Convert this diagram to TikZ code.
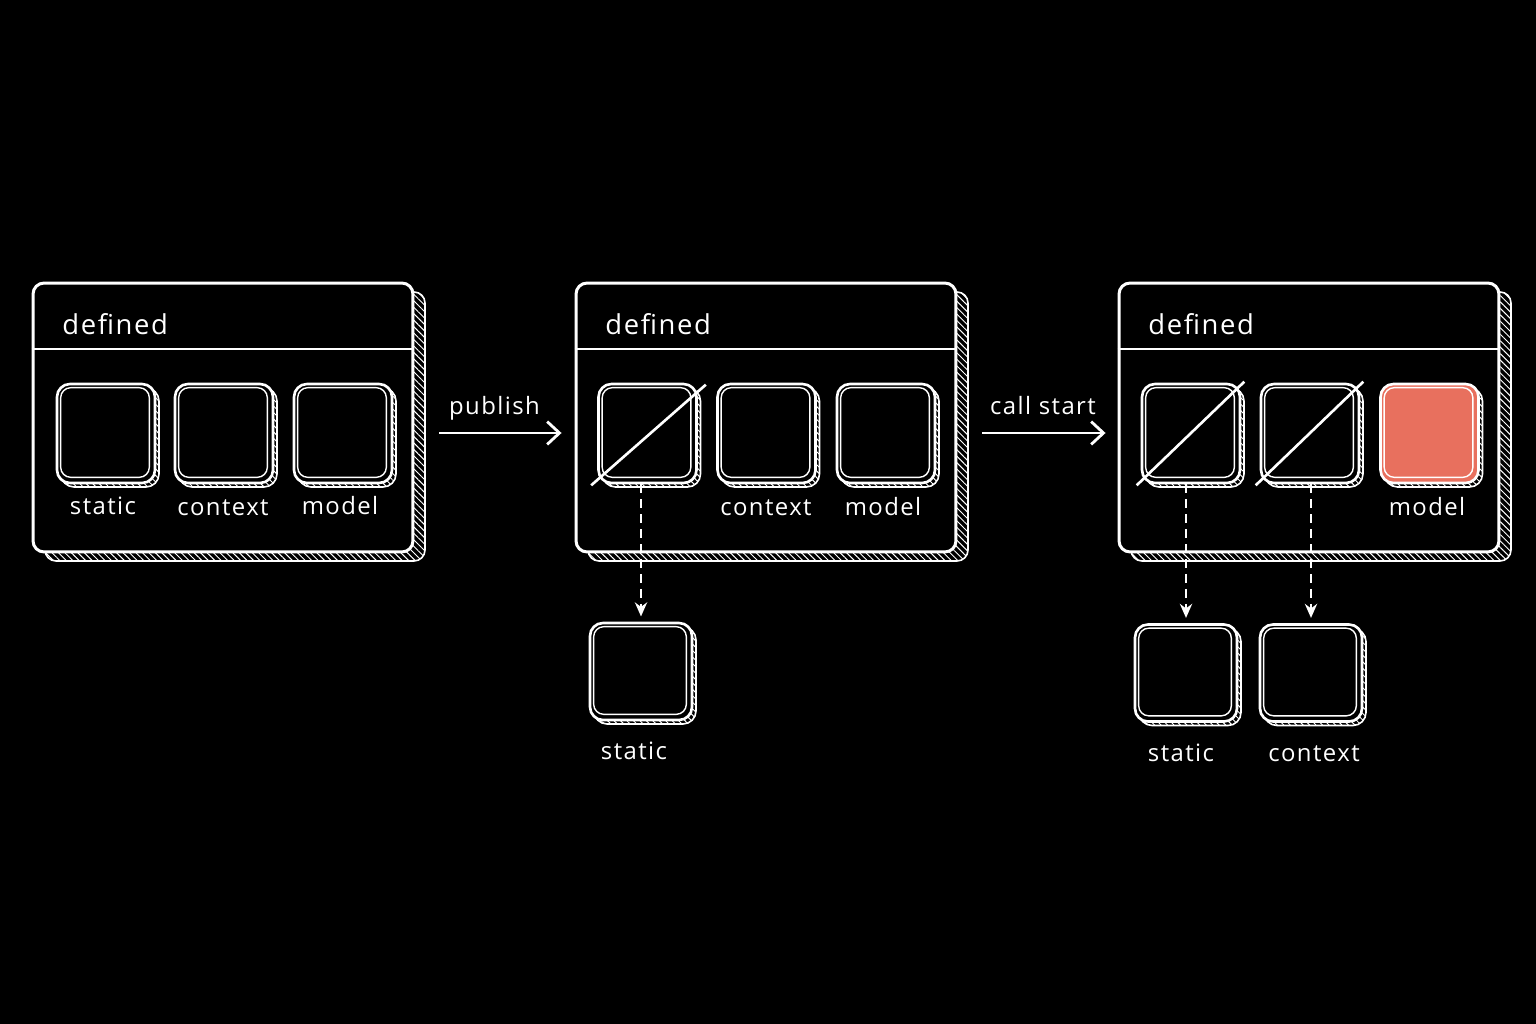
\documentclass[tikz,border=0pt]{standalone}
\usepackage{fontspec}
\setmainfont{Open Sans}[LetterSpace=6]
\usetikzlibrary{arrows.meta,patterns.meta}
\definecolor{coral}{HTML}{E8705E}
\tikzset{
  hatch/.style={draw=white, line width=0.9pt, pattern={Lines[angle=-45,distance=2.6pt,line width=0.55pt]}, pattern color=white},
  panelbox/.style={draw=white, fill=black, line width=1.7pt, rounded corners=0.22cm, minimum width=7.6cm, minimum height=5.38cm, inner sep=0pt},
  slotbox/.style={draw=white, line width=1.5pt, rounded corners=0.26cm, minimum width=1.96cm, minimum height=1.98cm, inner sep=0pt},
  innerline/.style={draw=white, line width=0.8pt, rounded corners=0.2cm},
  slash/.style={draw=white, line width=1.5pt},
  title/.style={text=white, font=\fontsize{15.6}{17}\selectfont, anchor=base west, inner sep=0pt},
  lbl/.style={text=white, font=\fontsize{13.6}{15}\selectfont, anchor=base, inner sep=0pt},
  flow/.style={draw=white, line width=1.6pt, -{Straight Barb[length=7pt,width=13pt,line width=1.6pt]}},
  drop/.style={draw=white, line width=1.1pt, dash pattern=on 5pt off 3.5pt, -{Stealth[length=8pt,width=7pt]}}
}
% panel: name, left x
\newcommand\mkpanel[2]{%
  \draw[hatch, rounded corners=0.22cm] ({#2+12},292) rectangle ({#2+392},561);
  \node[panelbox] (#1) at ({#2+190},417.5) {};
  \draw[white, line width=1.5pt] (#1.west |- 0,349) -- (#1.east |- 0,349);
  \node[title] (#1t) at ({#2+29},334) {defined};
}
% slot: name, cx, cy, fill, width(px), height(px)
\newcommand\mkslot[6]{%
  \draw[hatch, rounded corners=0.26cm] ({#2-#5/2+4},{#3-#6/2+4}) rectangle ({#2+#5/2+4},{#3+#6/2+4});
  \node[slotbox, fill=#4, minimum width=#5*0.02cm, minimum height=#6*0.02cm] (#1) at (#2,#3) {};
  \draw[innerline] ([shift={(5,5)}]#1.north west) rectangle ([shift={(-7,-7)}]#1.south east);
}
\begin{document}
\begin{tikzpicture}[x=0.02cm, y=-0.02cm]
\fill[black] (0,0) rectangle (1536,1024);
\useasboundingbox (0,0) rectangle (1536,1024);

% panels
\mkpanel{P1}{33}
\mkpanel{P2}{576}
\mkpanel{P3}{1119}

% panel 1 slots
\mkslot{a1}{106}{433.5}{black}{98}{99}
\mkslot{a2}{224}{433.5}{black}{98}{99}
\mkslot{a3}{343}{433.5}{black}{98}{99}
\node[lbl] (la1) at (103,514) {static};
\node[lbl] (la2) at (223,515) {context};
\node[lbl] (la3) at (340,514) {model};

% panel 2 slots
\mkslot{b1}{647.5}{433.5}{black}{98}{99}
\mkslot{b2}{766.5}{433.5}{black}{98}{99}
\mkslot{b3}{886}{433.5}{black}{98}{99}
\draw[slash] ([shift={(-6,1)}]b1.south west) -- ([shift={(8,2)}]b1.north east);
\node[lbl] (lb2) at (766,515) {context};
\node[lbl] (lb3) at (883,515) {model};

% panel 3 slots
\mkslot{c1}{1191}{433.5}{black}{98}{99}
\mkslot{c2}{1310}{433.5}{black}{98}{99}
\mkslot{c3}{1429.5}{433.5}{coral}{98}{99}
\draw[slash] ([shift={(-4,1)}]c1.south west) -- ([shift={(3,-1)}]c1.north east);
\draw[slash] ([shift={(-4,1)}]c2.south west) -- ([shift={(3,-1)}]c2.north east);
\node[lbl] (lc3) at (1427,515) {model};

% extracted boxes
\mkslot{d1}{641}{671.5}{black}{102}{97}
\mkslot{e1}{1186}{673}{black}{102}{97}
\mkslot{e2}{1311}{673}{black}{102}{97}
\node[lbl] (ld1) at (634,759) {static};
\node[lbl] (le1) at (1181,761) {static};
\node[lbl] (le2) at (1314,761) {context};

% dashed drops
\draw[drop, shorten >=3pt] (b1.south -| d1.north) -- (d1.north);
\draw[drop, shorten >=3pt] (c1.south -| e1.north) -- (e1.north);
\draw[drop, shorten >=3pt] (c2.south -| e2.north) -- (e2.north);

% flow arrows
\coordinate (row) at (0,433);
\draw[flow, shorten <=25*0.02cm, shorten >=13*0.02cm] (P1.east |- row) -- (P2.west |- row)
  node[lbl, midway, anchor=base, yshift=0.38cm] (pub) {publish};
\draw[flow, shorten <=25*0.02cm, shorten >=12*0.02cm] (P2.east |- row) -- (P3.west |- row)
  node[lbl, midway, anchor=base, yshift=0.38cm, xshift=0.11cm] (cs) {call start};
\end{tikzpicture}
\end{document}
